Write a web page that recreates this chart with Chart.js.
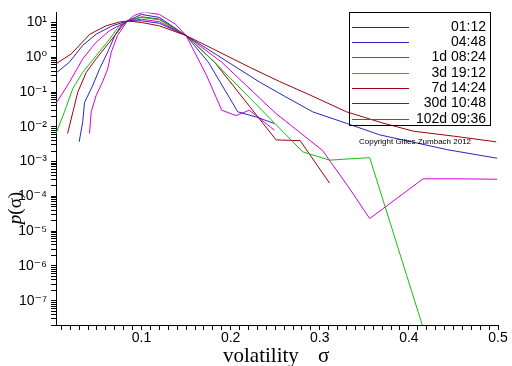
<!DOCTYPE html>
<html>
<head>
<meta charset="utf-8">
<script src="https://cdn.jsdelivr.net/npm/chart.js@4"></script>
<style>
  html, body { margin: 0; padding: 0; background: #fff; }
  #wrap { width: 512px; height: 366px; }
</style>
</head>
<body>
<div id="wrap"><canvas id="volChart" width="512" height="366"></canvas></div>
<script>
// legende et couleurs
var labels = ['01:12', '04:48', '1d 08:24', '3d 19:12', '7d 14:24', '30d 10:48', '102d 09:36'];
var colors = ['#a00010', '#2828c0', '#d800d8', '#10c010', '#a00010', '#2828c0', '#d800d8'];

// donnees (sigma, densite)
var x01 = [0.004, 0.021, 0.042, 0.060, 0.075, 0.085, 0.1, 0.12, 0.150, 0.18, 0.221, 0.255, 0.29, 0.33, 0.37, 0.405, 0.45, 0.498];
var y01 = [0.65, 1.24, 4.6, 8, 10.3, 11, 10, 8, 4.2, 1.75, 0.52, 0.2, 0.08, 0.027, 0.013, 0.0075, 0.0054, 0.0037];

var x02 = [0.004, 0.019, 0.034, 0.049, 0.067, 0.084, 0.1, 0.12, 0.150, 0.184, 0.206, 0.233, 0.26, 0.292, 0.33, 0.367, 0.405, 0.443, 0.499];
var y02 = [0.35, 0.72, 2.2, 4.6, 8, 11, 11.2, 9.5, 4.2, 1.19, 0.52, 0.19, 0.077, 0.027, 0.0126, 0.0059, 0.0036, 0.0022, 0.00125];

var x03 = [0.004, 0.019, 0.034, 0.049, 0.064, 0.084, 0.1, 0.12, 0.150, 0.19, 0.233, 0.251, 0.303, 0.334, 0.356, 0.416, 0.457, 0.499];
var y03 = [0.047, 0.19, 0.9, 2.7, 5.8, 11, 12.4, 10.5, 4.2, 0.72, 0.065, 0.024, 0.0021, 0.00016, 0.000023, 0.00032, 0.00032, 0.00031];

var x04 = [0.004, 0.0135, 0.0228, 0.034, 0.049, 0.064, 0.075, 0.084, 0.1, 0.12, 0.150, 0.182, 0.281, 0.311, 0.334, 0.356, 0.415];
var y04 = [0.0064, 0.027, 0.125, 0.37, 1.1, 3.3, 8, 11, 14, 12, 4.2, 0.72, 0.0019, 0.0011, 0.0012, 0.0013, 2e-8];

var x05 = [0.017, 0.023, 0.0285, 0.038, 0.049, 0.064, 0.077, 0.084, 0.1, 0.12, 0.150, 0.182, 0.251, 0.278, 0.311];
var y05 = [0.0064, 0.027, 0.1, 0.37, 0.9, 2.7, 7.2, 11, 14.5, 12.5, 4.2, 0.72, 0.0042, 0.004, 0.00024];

var x30 = [0.030, 0.034, 0.036, 0.045, 0.053, 0.062, 0.070, 0.077, 0.084, 0.1, 0.12, 0.150, 0.175, 0.208, 0.229, 0.249];
var y30 = [0.0037, 0.014, 0.05, 0.15, 0.47, 1.4, 4.2, 8, 11, 17, 14, 4.2, 0.72, 0.027, 0.019, 0.0125];

var x102 = [0.0416, 0.0435, 0.049, 0.056, 0.062, 0.066, 0.073, 0.084, 0.092, 0.103, 0.12, 0.138, 0.150, 0.173, 0.19, 0.206, 0.221, 0.249];
var y102 = [0.0064, 0.027, 0.079, 0.19, 0.46, 1.4, 4.2, 11, 16, 20, 17, 9, 4.2, 0.3, 0.03, 0.021, 0.03, 0.008];

var seriesX = [x01, x02, x03, x04, x05, x30, x102];
var seriesY = [y01, y02, y03, y04, y05, y30, y102];

var supers = {'-': '\u207B', '0': '\u2070', '1': '\u00B9', '2': '\u00B2', '3': '\u00B3', '4': '\u2074',
              '5': '\u2075', '6': '\u2076', '7': '\u2077', '8': '\u2078', '9': '\u2079'};
function sup(n) {
    return String(n).split('').map(function(c) { return supers[c]; }).join('');
}

var datasets = labels.map(function(lab, i) {
    return {
        label: lab,
        data: seriesX[i].map(function(x, j) { return {x: x, y: seriesY[i][j]}; }),
        borderColor: colors[i],
        borderWidth: 1,
        pointRadius: 0,
        showLine: true,
        tension: 0
    };
});

// legende, copyright et titres des axes dessines a la main
var decor = {
    id: 'decor',
    afterDraw: function(chart) {
        var c = chart.ctx;
        c.save();
        c.strokeStyle = '#000';
        c.lineWidth = 1;
        c.strokeRect(349.5, 12.5, 141, 113);
        c.font = '14px "Liberation Sans", Arial, sans-serif';
        c.textAlign = 'right';
        c.textBaseline = 'middle';
        chart.data.datasets.forEach(function(ds, i) {
            var y = Math.round(26.7 + i * 15.3) + 0.5;
            c.strokeStyle = ds.borderColor;
            c.beginPath();
            c.moveTo(352, y);
            c.lineTo(409, y);
            c.stroke();
            c.fillStyle = '#000';
            c.fillText(ds.label, 486, y);
        });
        c.font = '8px "Liberation Sans", Arial, sans-serif';
        c.textAlign = 'left';
        c.fillText('Copyright Gilles Zumbach 2012', 359, 142);

        // titre x
        c.font = '21px "Liberation Serif", "Times New Roman", serif';
        c.textBaseline = 'alphabetic';
        c.fillText('volatility', 223, 362);
        c.fillText('\u03C3', 318, 362);

        // titre y
        c.translate(21, 208);
        c.rotate(-Math.PI / 2);
        c.textAlign = 'left';
        c.font = 'italic 19px "Liberation Serif", "Times New Roman", serif';
        var wp = c.measureText('p').width;
        c.font = '19px "Liberation Serif", "Times New Roman", serif';
        var wr = c.measureText('(\u03C3)').width;
        var x0 = -(wp + wr) / 2;
        c.font = 'italic 19px "Liberation Serif", "Times New Roman", serif';
        c.fillText('p', x0, 0);
        c.font = '19px "Liberation Serif", "Times New Roman", serif';
        c.fillText('(\u03C3)', x0 + wp, 0);
        c.restore();
    }
};

var ctx = document.getElementById('volChart').getContext('2d');
var volChart = new Chart(ctx, {
    type: 'scatter',
    data: { datasets: datasets },
    options: {
        responsive: false,
        animation: false,
        layout: { padding: { top: 10, right: 14, left: 0, bottom: 0 } },
        plugins: {
            legend: { display: false },
            tooltip: { enabled: false }
        },
        scales: {
            x: {
                type: 'linear',
                min: 0.004,
                max: 0.5,
                afterBuildTicks: function(scale) {
                    var t = [];
                    for (var k = 1; k <= 50; k++) t.push({ value: k / 100 });
                    scale.ticks = t;
                },
                afterFit: function(scale) { scale.height = 41; },
                grid: { drawOnChartArea: false, tickLength: 5, color: '#000', tickColor: '#000' },
                border: { color: '#000', width: 1 },
                ticks: {
                    autoSkip: false,
                    maxRotation: 0,
                    padding: 0,
                    color: '#000',
                    font: { family: '"Liberation Sans", Arial, sans-serif', size: 14 },
                    callback: function(v) {
                        var k = Math.round(v * 100);
                        return k % 10 === 0 ? (k / 100).toFixed(1) : '';
                    }
                }
            },
            y: {
                type: 'logarithmic',
                min: 2e-8,
                max: 19.5,
                afterBuildTicks: function(scale) {
                    var t = [];
                    for (var e = -8; e <= 1; e++) {
                        for (var m = 1; m <= 9; m++) {
                            var v = m * Math.pow(10, e);
                            if (v >= scale.min && v <= scale.max) t.push({ value: v });
                        }
                    }
                    scale.ticks = t;
                },
                afterFit: function(scale) { scale.width = 56; },
                grid: { drawOnChartArea: false, tickLength: 5, color: '#000', tickColor: '#000' },
                border: { color: '#000', width: 1 },
                ticks: {
                    autoSkip: false,
                    padding: 4,
                    color: '#000',
                    font: { family: '"Liberation Sans", "DejaVu Sans", Arial, sans-serif', size: 14 },
                    callback: function(v) {
                        var e = Math.round(Math.log10(v));
                        if (Math.abs(v / Math.pow(10, e) - 1) < 1e-6) return '10' + sup(e);
                        return '';
                    }
                }
            }
        }
    },
    plugins: [decor]
});
</script>
</body>
</html>
